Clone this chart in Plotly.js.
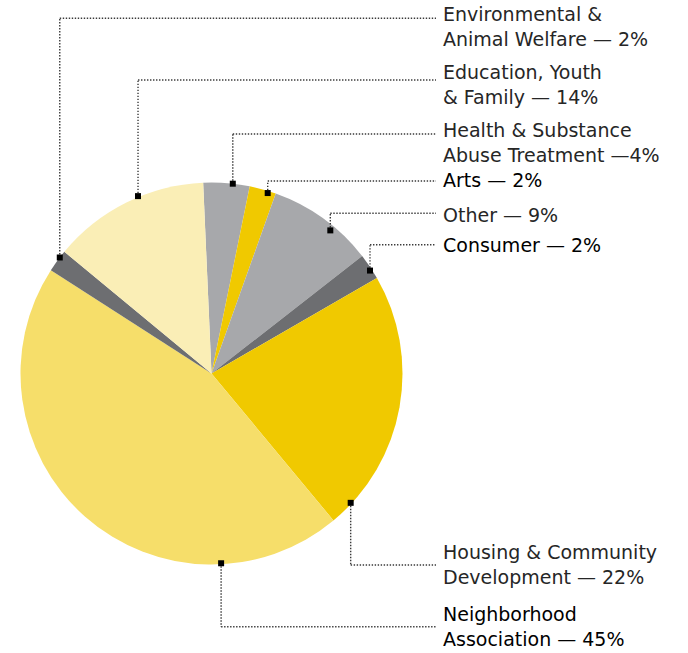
<!DOCTYPE html>
<html><head><meta charset="utf-8">
<script src="https://cdn.plot.ly/plotly-3.0.1.min.js"></script>
<style>html,body{margin:0;padding:0;background:#fff}#chart{width:688px;height:653px}</style>
</head><body><div id="chart"></div>
<script>
// ---- data ----
const categories = ["Health & Substance Abuse Treatment", "Arts", "Other", "Consumer",
  "Housing & Community Development", "Neighborhood Association",
  "Environmental & Animal Welfare", "Education, Youth & Family"];
const values = [3.9, 2.25, 9, 2.2, 22.3, 45.1, 1.9, 13.3];
const labelTexts = ["Health & Substance<br>Abuse Treatment —4%", "Arts — 2%", "Other — 9%",
  "Consumer — 2%", "Housing & Community<br>Development — 22%", "Neighborhood<br>Association — 45%",
  "Environmental &<br>Animal Welfare — 2%", "Education, Youth<br>& Family — 14%"];
const sliceColors = ["#a7a8ab", "#f0c900", "#a7a8ab", "#6d6e71", "#f0c900", "#f6de6a", "#6d6e71", "#faeeb6"];

// ---- layout constants ----
const W = 688, H = 653, CX = 211.5, CY = 373.5, R = 191;
const markerAngles = [6.4, 17.3, 39.7, 57, 132.9, 177.1, 307.4, 337.5];
const markerRadii = [191, 189, 186, 189, 190, 190, 191, 192];
const elbowY = [134, 181, 213.3, 244.7, 565, 626.7, 18.3, 80];
const labelTop = [123.3, 173, 208, 238, 545, 606.7, 7.3, 65];
const labelColors = ["#262626", "#000", "#262626", "#000", "#262626", "#000", "#262626", "#262626"];
const LINE_END_X = 436, LABEL_X = 441;
const FONT = "'DejaVu Sans', sans-serif";

const px = x => x / W, py = y => 1 - y / H;

const shapes = [], annotations = [];
categories.forEach((c, i) => {
  const a = markerAngles[i] * Math.PI / 180;
  const mx = CX + markerRadii[i] * Math.sin(a);
  const my = CY - markerRadii[i] * Math.cos(a);
  const ey = elbowY[i];
  const ln = {color: "#3a3a3a", width: 1.4, dash: "1.4px,1.6px"};
  shapes.push({type: "line", xref: "paper", yref: "paper", x0: px(mx), y0: py(my), x1: px(mx), y1: py(ey), line: ln});
  shapes.push({type: "line", xref: "paper", yref: "paper", x0: px(mx), y0: py(ey), x1: px(LINE_END_X), y1: py(ey), line: ln});
  shapes.push({type: "rect", xref: "paper", yref: "paper", x0: px(mx - 3), x1: px(mx + 3), y0: py(my - 3), y1: py(my + 3),
    fillcolor: "#000", line: {width: 0}});
  annotations.push({xref: "paper", yref: "paper", x: px(LABEL_X), y: py(labelTop[i] - 6),
    xanchor: "left", yanchor: "top", align: "left", showarrow: false, text: labelTexts[i],
    font: {family: FONT, size: 19, color: labelColors[i]}});
});

const trace = {
  type: "pie", labels: categories, values: values, sort: false, direction: "clockwise", rotation: -2.5,
  textinfo: "none", hoverinfo: "label+percent",
  marker: {colors: sliceColors, line: {width: 0}},
  domain: {x: [px(CX - R), px(CX + R)], y: [py(CY + R), py(CY - R)]},
  showlegend: false
};

Plotly.newPlot("chart", [trace], {
  width: W, height: H, margin: {l: 0, r: 0, t: 0, b: 0},
  paper_bgcolor: "#fff", plot_bgcolor: "#fff", showlegend: false,
  shapes: shapes, annotations: annotations, font: {family: FONT}
}, {displayModeBar: false, staticPlot: true});
</script></body></html>
